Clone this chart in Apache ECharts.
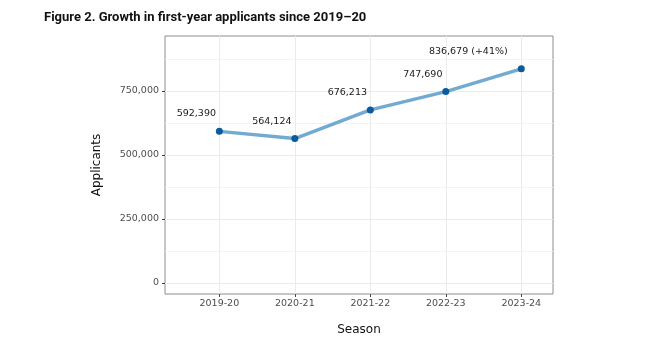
<!DOCTYPE html>
<html>
<head>
<meta charset="utf-8">
<script src="https://cdn.jsdelivr.net/npm/echarts@6/dist/echarts.min.js"></script>
<style>
html,body{margin:0;padding:0;background:#fff;}
#c{width:660px;height:341px;}
</style>
</head>
<body>
<div id="c"></div>
<script>
const seasons = ['2019-20', '2020-21', '2021-22', '2022-23', '2023-24'];
const applicants = [592390, 564124, 676213, 747690, 836679];
const pointLabels = ['592,390', '564,124', '676,213', '747,690', '836,679 (+41%)'];
const yTicks = [0, 250000, 500000, 750000];
const yTickLabels = ['0', '250,000', '500,000', '750,000'];
const yMinorGrid = [125000, 375000, 625000, 875000];

const chart = echarts.init(document.getElementById('c'));
const labelDx = [-23, -23, -23, -23, -53];
const data = applicants.map((v, i) => ({
  value: [i, v],
  label: { show: true, formatter: pointLabels[i], position: 'top', offset: [labelDx[i], -4] }
}));

const yMin = -43000, yMax = 965000;

chart.setOption({
  animation: false,
  title: {
    text: 'Figure 2. Growth in first-year applicants since 2019\u201320',
    left: 39, top: 6,
    textStyle: { fontFamily: 'Roboto', fontWeight: 'bold', fontSize: 13, color: '#111' }
  },
  grid: { left: 165, right: 107, top: 36, bottom: 47, show: true, borderColor: '#8c8c8c', borderWidth: 1 },
  xAxis: {
    type: 'value', min: -0.72, max: 4.42, interval: 1,
    name: 'Season', nameLocation: 'middle', nameGap: 30,
    nameTextStyle: { fontFamily: 'DejaVu Sans', fontSize: 12, color: '#111' },
    axisLine: { show: false, onZero: false },
    axisTick: { show: true, customValues: [0, 1, 2, 3, 4], length: 3, lineStyle: { color: '#444' } },
    axisLabel: { customValues: [0, 1, 2, 3, 4], formatter: v => seasons[Math.round(v)] || '', fontFamily: 'DejaVu Sans', fontSize: 9.5, color: '#4d4d4d', margin: 5 },
    splitLine: { show: true, lineStyle: { color: '#ebebeb', width: 1 } }
  },
  yAxis: [{
    type: 'value', min: yMin, max: yMax, interval: 125000,
    name: 'Applicants', nameLocation: 'middle', nameGap: 62,
    nameTextStyle: { fontFamily: 'DejaVu Sans', fontSize: 12, color: '#111' },
    axisLine: { show: false, onZero: false },
    axisTick: { show: true, customValues: yTicks, length: 3, lineStyle: { color: '#444' } },
    axisLabel: { customValues: yTicks, formatter: v => { const k = yTicks.indexOf(v); return k >= 0 ? yTickLabels[k] : ''; }, fontFamily: 'DejaVu Sans', fontSize: 9.5, color: '#4d4d4d', margin: 6 },
    splitLine: { show: true, lineStyle: { color: '#ebebeb', width: 1 } },
    z: 1
  }, {
    type: 'value', min: yMin, max: yMax, position: 'left',
    axisLine: { show: false, onZero: false },
    axisTick: { show: false, customValues: yMinorGrid },
    axisLabel: { show: false, customValues: yMinorGrid },
    splitLine: { show: true, lineStyle: { color: '#f2f2f2', width: 1 } },
    z: 0
  }],
  series: [{
    type: 'line',
    data: data,
    yAxisIndex: 0,
    lineStyle: { color: '#72aad2', width: 3.5 },
    itemStyle: { color: '#0b5c9e' },
    symbol: 'circle', symbolSize: 7,
    label: { fontFamily: 'DejaVu Sans', fontSize: 9.5, color: '#1a1a1a' },
    z: 3
  }]
});
</script>
</body>
</html>
